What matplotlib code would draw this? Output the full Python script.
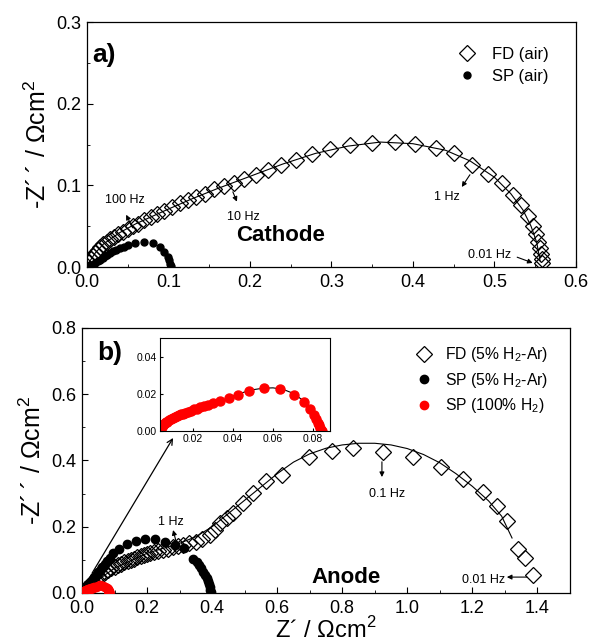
import matplotlib
matplotlib.use("Agg")
import matplotlib.pyplot as plt
from matplotlib.ticker import MultipleLocator

plt.rcParams['font.family'] = ['Liberation Sans', 'DejaVu Sans']
plt.rcParams['mathtext.fontset'] = 'custom'
plt.rcParams['mathtext.rm'] = 'Liberation Sans'

# ---- a) cathode data ----
fd_air_x = [0.003, 0.005, 0.007, 0.010, 0.013, 0.016, 0.020, 0.024, 0.028, 0.033, 0.038, 0.044,
            0.050, 0.056, 0.063, 0.070, 0.078, 0.086, 0.095, 0.104, 0.114, 0.124, 0.134, 0.145,
            0.156, 0.168, 0.180, 0.193, 0.207, 0.222, 0.238, 0.256, 0.276, 0.298, 0.323, 0.350,
            0.378, 0.403, 0.428, 0.451, 0.472, 0.492, 0.509, 0.523, 0.533, 0.541, 0.547, 0.551,
            0.554, 0.556, 0.557, 0.558, 0.558]
fd_air_y = [0.006, 0.010, 0.013, 0.017, 0.021, 0.024, 0.028, 0.031, 0.034, 0.037, 0.040, 0.043,
            0.047, 0.050, 0.053, 0.057, 0.061, 0.065, 0.069, 0.073, 0.078, 0.082, 0.086, 0.090,
            0.095, 0.099, 0.103, 0.108, 0.113, 0.119, 0.125, 0.131, 0.138, 0.144, 0.149, 0.152,
            0.153, 0.151, 0.146, 0.139, 0.125, 0.114, 0.103, 0.088, 0.076, 0.063, 0.050, 0.040,
            0.031, 0.023, 0.016, 0.010, 0.005]
fd_air_fit_x = [0.0, 0.01, 0.02, 0.04, 0.06, 0.08, 0.10, 0.13, 0.16, 0.20, 0.24, 0.28, 0.32,
                0.36, 0.40, 0.44, 0.47, 0.50, 0.52, 0.535, 0.545, 0.552, 0.556]
fd_air_fit_y = [0.002, 0.017, 0.028, 0.042, 0.053, 0.062, 0.071, 0.084, 0.096, 0.111, 0.126,
                0.139, 0.148, 0.153, 0.151, 0.143, 0.130, 0.110, 0.090, 0.070, 0.050, 0.030, 0.008]
sp_air_x = [0.002, 0.004, 0.006, 0.008, 0.010, 0.013, 0.016, 0.019, 0.022, 0.025, 0.028, 0.032,
            0.036, 0.040, 0.045, 0.050, 0.059, 0.070, 0.081, 0.089, 0.095, 0.099, 0.101, 0.102, 0.103]
sp_air_y = [0.001, 0.002, 0.003, 0.004, 0.005, 0.007, 0.009, 0.011, 0.013, 0.015, 0.017, 0.019,
            0.021, 0.023, 0.025, 0.027, 0.030, 0.031, 0.029, 0.024, 0.018, 0.012, 0.008, 0.004, 0.001]

# ---- b) anode data ----
fd_h2_x = [0.01, 0.02, 0.03, 0.04, 0.05, 0.06, 0.07, 0.08, 0.09, 0.10, 0.11, 0.12, 0.13, 0.14,
           0.15, 0.16, 0.17, 0.18, 0.19, 0.20, 0.21, 0.22, 0.235, 0.25, 0.265, 0.28, 0.295, 0.31,
           0.33, 0.35, 0.37, 0.395, 0.41, 0.425, 0.445, 0.465, 0.495, 0.525, 0.565, 0.614, 0.698,
           0.768, 0.833, 0.925, 1.018, 1.103, 1.171, 1.233, 1.276, 1.306, 1.340, 1.362, 1.386]
fd_h2_y = [0.012, 0.022, 0.032, 0.040, 0.048, 0.055, 0.062, 0.068, 0.074, 0.079, 0.084, 0.089,
           0.093, 0.097, 0.101, 0.104, 0.108, 0.111, 0.114, 0.117, 0.120, 0.123, 0.126, 0.130,
           0.134, 0.138, 0.141, 0.145, 0.150, 0.155, 0.164, 0.175, 0.190, 0.212, 0.226, 0.241,
           0.271, 0.301, 0.337, 0.356, 0.411, 0.429, 0.438, 0.426, 0.411, 0.381, 0.344, 0.305,
           0.263, 0.218, 0.133, 0.106, 0.053]
fd_h2_fit_x = [0.0, 0.05, 0.10, 0.20, 0.30, 0.35, 0.40, 0.45, 0.50, 0.55, 0.60, 0.65, 0.70, 0.75,
               0.80, 0.85, 0.90, 0.95, 1.00, 1.05, 1.10, 1.15, 1.20, 1.25, 1.29, 1.322]
fd_h2_fit_y = [0.0, 0.040, 0.075, 0.120, 0.150, 0.170, 0.200, 0.240, 0.280, 0.320, 0.360, 0.395,
               0.420, 0.437, 0.447, 0.452, 0.452, 0.447, 0.436, 0.418, 0.393, 0.360, 0.322,
               0.278, 0.232, 0.166]
sp_h2_x = [0.003, 0.006, 0.009, 0.012, 0.015, 0.018, 0.021, 0.024, 0.027, 0.030, 0.034, 0.038,
           0.042, 0.046, 0.050, 0.054, 0.058, 0.062, 0.067, 0.072, 0.078, 0.085, 0.095, 0.114,
           0.138, 0.166, 0.194, 0.224, 0.255, 0.286, 0.313, 0.341, 0.352, 0.360, 0.367, 0.373,
           0.378, 0.383, 0.387, 0.390, 0.393, 0.395, 0.397]
sp_h2_y = [0.002, 0.005, 0.009, 0.013, 0.017, 0.021, 0.025, 0.029, 0.033, 0.037, 0.042, 0.047,
           0.052, 0.057, 0.062, 0.067, 0.072, 0.077, 0.083, 0.089, 0.097, 0.106, 0.121, 0.134,
           0.148, 0.157, 0.162, 0.163, 0.155, 0.145, 0.136, 0.104, 0.094, 0.084, 0.074, 0.064,
           0.054, 0.044, 0.035, 0.026, 0.018, 0.010, 0.004]
sp_pure_x = [0.0035, 0.004, 0.0045, 0.005, 0.0055, 0.006, 0.0065, 0.007, 0.008, 0.009, 0.010,
             0.011, 0.012, 0.013, 0.014, 0.015, 0.016, 0.0175, 0.019, 0.0205, 0.022, 0.0235,
             0.0255, 0.0275, 0.030, 0.0335, 0.038, 0.0425, 0.048, 0.0555, 0.0635, 0.0705,
             0.0755, 0.0785, 0.0805, 0.0815, 0.0825, 0.083, 0.0835, 0.084, 0.0845]
sp_pure_y = [0.0005, 0.0015, 0.0024, 0.0031, 0.0037, 0.0042, 0.0047, 0.0051, 0.0058, 0.0064,
             0.0070, 0.0075, 0.0080, 0.0085, 0.0090, 0.0094, 0.0098, 0.0104, 0.0110, 0.0116,
             0.0121, 0.0127, 0.0134, 0.0141, 0.0150, 0.0162, 0.0178, 0.0196, 0.0216, 0.0230,
             0.0225, 0.0195, 0.0158, 0.0120, 0.0088, 0.0065, 0.0045, 0.0030, 0.0018, 0.0008, 0.0002]
sp_pure_fit_x = [0.040, 0.045, 0.050, 0.055, 0.060, 0.065, 0.070, 0.075, 0.080, 0.0845]
sp_pure_fit_y = [0.0188, 0.0207, 0.0222, 0.0230, 0.0232, 0.0224, 0.0203, 0.0165, 0.0100, 0.0]

ylab = "-Z\u00b4\u2009\u00b4 / \u03a9cm$^\\mathregular{2}$"
xlab = "Z\u00b4 / \u03a9cm$^\\mathregular{2}$"
arr = dict(arrowstyle='-|>', lw=0.8, color='k', mutation_scale=7, shrinkA=0, shrinkB=0)


def style(ax):
    ax.tick_params(which='both', direction='in', labelsize=13, top=False, right=False)
    ax.tick_params(which='major', length=4)
    ax.tick_params(which='minor', length=2.5)
    ax.tick_params(axis='x', pad=5)
    ax.tick_params(axis='y', pad=4)
    for s in ax.spines.values():
        s.set_linewidth(0.9)


fig = plt.figure(figsize=(5.9, 6.44), dpi=100)

# ---------------- a) ----------------
ax1 = fig.add_axes([0.1475, 0.5854, 0.8285, 0.3804])
ax1.plot(fd_air_fit_x, fd_air_fit_y, '-', color='k', lw=0.8)
ax1.plot(sp_air_x, sp_air_y, 'o', color='k', ms=5, label='SP (air)', zorder=2)
ax1.plot(fd_air_x, fd_air_y, 'D', mfc='none', mec='k', mew=0.9, ms=8, label='FD (air)', zorder=3)
ax1.set_xlim(0, 0.6)
ax1.set_ylim(0, 0.3)
ax1.xaxis.set_major_locator(MultipleLocator(0.1))
ax1.xaxis.set_minor_locator(MultipleLocator(0.05))
ax1.yaxis.set_major_locator(MultipleLocator(0.1))
ax1.yaxis.set_minor_locator(MultipleLocator(0.05))
ax1.xaxis.set_major_formatter(lambda v, p: f"{v:.1f}")
ax1.yaxis.set_major_formatter(lambda v, p: f"{v:.1f}")
style(ax1)
ax1.set_ylabel(ylab, fontsize=18, labelpad=4)
h, l = ax1.get_legend_handles_labels()
ax1.legend([h[1], h[0]], [l[1], l[0]], loc='upper right', bbox_to_anchor=(0.945, 0.897),
           frameon=False, fontsize=12, handlelength=1.2, handletextpad=0.9,
           labelspacing=0.42, borderpad=0, borderaxespad=0)
ax1.text(0.007, 0.26, "a)", fontsize=19, fontweight='bold', va='center')
ax1.text(0.237, 0.039, "Cathode", fontsize=16, fontweight='bold', ha='center', va='center')

ax1.annotate("", xy=(0.048, 0.064), xytext=(0.056, 0.048), arrowprops=arr)
ax1.text(0.046, 0.082, "100 Hz", fontsize=9, ha='center', va='center')
ax1.annotate("", xy=(0.184, 0.080), xytext=(0.179, 0.092), arrowprops=arr)
ax1.text(0.192, 0.061, "10 Hz", fontsize=9, ha='center', va='center')
ax1.annotate("", xy=(0.460, 0.098), xytext=(0.470, 0.113), arrowprops=arr)
ax1.text(0.442, 0.086, "1 Hz", fontsize=9, ha='center', va='center')
ax1.annotate("", xy=(0.547, 0.005), xytext=(0.528, 0.012), arrowprops=arr)
ax1.text(0.494, 0.015, "0.01 Hz", fontsize=9, ha='center', va='center')

# ---------------- b) ----------------
ax2 = fig.add_axes([0.139, 0.0792, 0.827, 0.4115])
ax2.plot(fd_h2_fit_x, fd_h2_fit_y, '-', color='k', lw=0.8)
ax2.plot(fd_h2_x, fd_h2_y, 'D', mfc='none', mec='k', mew=0.9, ms=8.5,
         label='FD (5% H$_\\mathregular{2}$-Ar)', zorder=2)
ax2.plot(sp_h2_x, sp_h2_y, 'o', color='k', ms=6,
         label='SP (5% H$_\\mathregular{2}$-Ar)', zorder=3)
ax2.plot(sp_pure_x, sp_pure_y, 'o', color='red', ms=6,
         label='SP (100% H$_\\mathregular{2}$)', zorder=4)
ax2.set_xlim(0, 1.5)
ax2.set_ylim(0, 0.8)
ax2.xaxis.set_major_locator(MultipleLocator(0.2))
ax2.xaxis.set_minor_locator(MultipleLocator(0.1))
ax2.yaxis.set_major_locator(MultipleLocator(0.2))
ax2.yaxis.set_minor_locator(MultipleLocator(0.1))
ax2.xaxis.set_major_formatter(lambda v, p: f"{v:.1f}")
ax2.yaxis.set_major_formatter(lambda v, p: f"{v:.1f}")
style(ax2)
ax2.set_ylabel(ylab, fontsize=18, labelpad=4)
ax2.set_xlabel(xlab, fontsize=17, labelpad=0)
ax2.legend(loc='upper right', bbox_to_anchor=(0.955, 0.935), frameon=False, fontsize=11.3,
           handlelength=1.0, handletextpad=0.85, labelspacing=0.42, borderpad=0, borderaxespad=0)
ax2.text(0.046, 0.725, "b)", fontsize=19, fontweight='bold', va='center')
ax2.text(0.812, 0.048, "Anode", fontsize=16, fontweight='bold', ha='center', va='center')

ax2.annotate("", xy=(0.280, 0.190), xytext=(0.292, 0.145), arrowprops=arr)
ax2.text(0.274, 0.215, "1 Hz", fontsize=9, ha='center', va='center')
ax2.annotate("", xy=(0.922, 0.350), xytext=(0.922, 0.396), arrowprops=arr)
ax2.text(0.937, 0.299, "0.1 Hz", fontsize=9, ha='center', va='center')
ax2.annotate("", xy=(1.306, 0.048), xytext=(1.368, 0.048), arrowprops=arr)
ax2.text(1.233, 0.039, "0.01 Hz", fontsize=9, ha='center', va='center')
ax2.annotate("", xy=(0.280, 0.468), xytext=(0.031, 0.060),
             arrowprops=dict(arrowstyle='->', lw=0.9, color='k', shrinkA=0, shrinkB=0))

# inset
ax3 = fig.add_axes([0.2712, 0.3307, 0.2881, 0.1445])
ax3.plot(sp_pure_fit_x, sp_pure_fit_y, '-', color='k', lw=0.8)
ax3.plot(sp_pure_x, sp_pure_y, 'o', color='red', ms=6.5)
ax3.set_xlim(0.0035, 0.0885)
ax3.set_ylim(0, 0.05)
ax3.xaxis.set_major_locator(MultipleLocator(0.02))
ax3.yaxis.set_major_locator(MultipleLocator(0.02))
ax3.xaxis.set_major_formatter(lambda v, p: f"{v:.2f}")
ax3.yaxis.set_major_formatter(lambda v, p: f"{v:.2f}")
ax3.tick_params(which='both', direction='in', labelsize=7.5, length=2.5, pad=2, top=False, right=False)
for s in ax3.spines.values():
    s.set_linewidth(0.8)

fig.savefig("out.png", dpi=100)
